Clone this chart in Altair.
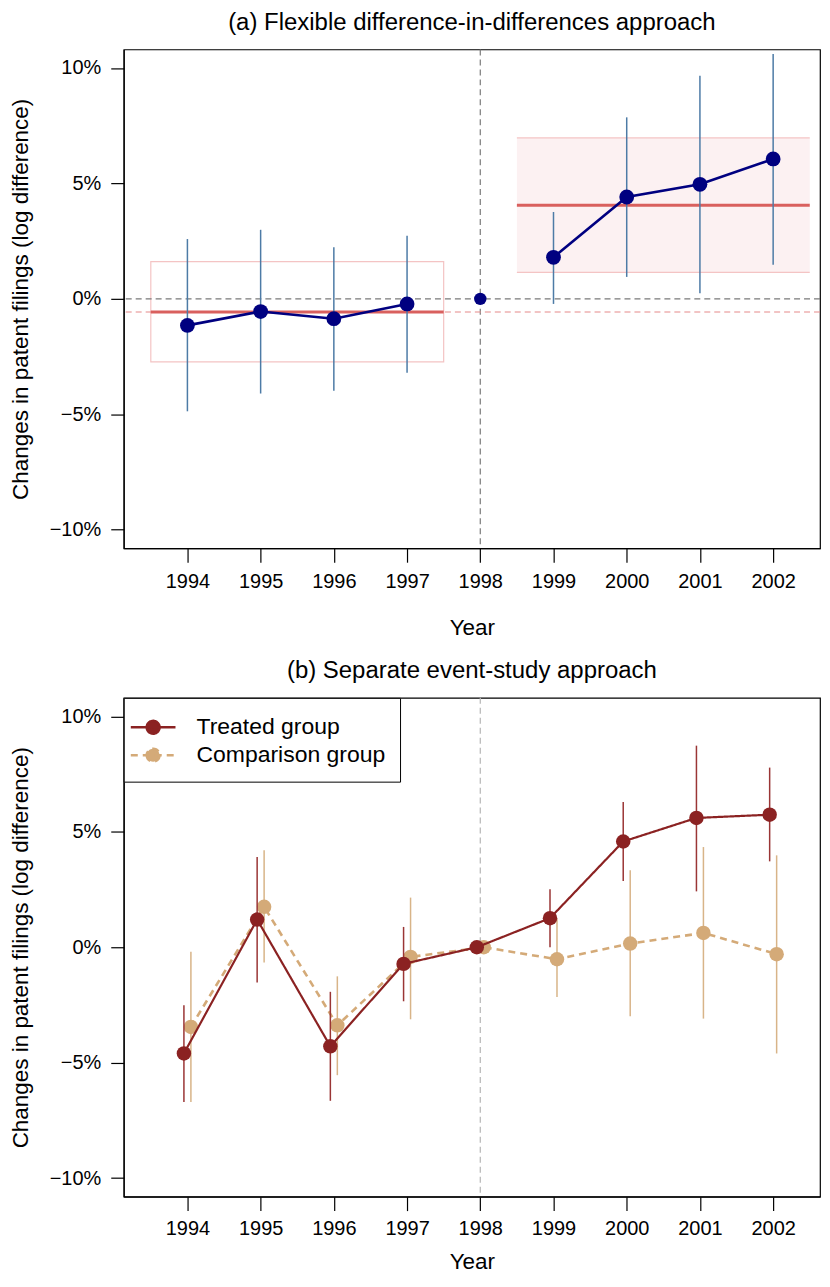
import altair as alt
import pandas as pd

FONT = "Liberation Sans"

years = [1994, 1995, 1996, 1997, 1998, 1999, 2000, 2001, 2002]
base_year = [1998]

# Panel (a): flexible difference-in-differences
did_est = [-1.15, -0.55, -0.86, -0.22, 0.0, 1.80, 4.41, 4.96, 6.06]
did_lo = [-4.87, -4.10, -3.98, -3.20, None, -0.22, 0.95, 0.24, 1.48]
did_hi = [2.59, 2.99, 2.23, 2.73, None, 3.76, 7.86, 9.66, 10.60]
did_period = ["pre", "pre", "pre", "pre", "base", "post", "post", "post", "post"]

pool_period = ["pre", "post"]
pool_start = [1993.5, 1998.5]
pool_end = [1997.5, 2002.5]
pool_est = [-0.57, 4.05]
pool_lo = [-2.73, 1.15]
pool_hi = [1.61, 6.97]

# Panel (b): separate event studies
groups = ["Treated group", "Comparison group"]
treat_est = [-4.60, 1.20, -4.29, -0.72, 0.0, 1.26, 4.58, 5.60, 5.74]
treat_lo = [-6.70, -1.53, -6.65, -2.34, None, 0.00, 2.87, 2.42, 3.72]
treat_hi = [-2.51, 3.91, -1.93, 0.88, None, 2.51, 6.29, 8.73, 7.78]
comp_est = [-3.45, 1.75, -3.38, -0.42, 0.0, -0.52, 0.16, 0.62, -0.30]
comp_lo = [-6.70, -0.66, -5.54, -3.12, None, -2.15, -2.99, -3.09, -4.60]
comp_hi = [-0.20, 4.20, -1.26, 2.15, None, 1.24, 3.33, 4.34, 3.98]

y_ticks = [-10, -5, 0, 5, 10]

did = pd.DataFrame({"year": years, "est": did_est, "lo": did_lo, "hi": did_hi, "period": did_period})
pool = pd.DataFrame({"period": pool_period, "start": pool_start, "end": pool_end,
                     "est": pool_est, "lo": pool_lo, "hi": pool_hi})
ev = pd.concat([
    pd.DataFrame({"year": years, "est": comp_est, "lo": comp_lo, "hi": comp_hi, "group": groups[1]}),
    pd.DataFrame({"year": years, "est": treat_est, "lo": treat_lo, "hi": treat_hi, "group": groups[0]}),
], ignore_index=True)
base = pd.DataFrame({"year": base_year, "zero": [0.0]})

W, H = 698, 500
xscale = alt.Scale(domain=[1993.13, 2002.64], nice=False, zero=False)
yscale = alt.Scale(domain=[-10.8, 10.8], nice=False, zero=False)

yaxis = alt.Axis(values=y_ticks, labelExpr="format(datum.value, 'd') + '%'", grid=False,
                 tickSize=13, labelPadding=10, title="Changes in patent filings (log difference)",
                 titlePadding=17)


def make_xaxis(lp, tp):
    return alt.Axis(values=years, format="d", grid=False, tickSize=14, labelPadding=lp,
                    title="Year", titlePadding=tp)


def make_enc(xaxis):
    X = lambda f="year": alt.X(f"{f}:Q", scale=xscale, axis=xaxis)
    Y = lambda f="est": alt.Y(f"{f}:Q", scale=yscale, axis=yaxis)
    return X, Y


# ---------- Panel (a)
X, Y = make_enc(make_xaxis(9, 25))
pre = pool[pool.period == "pre"]
post = pool[pool.period == "post"]

a_pre_box = alt.Chart(pre).mark_rect(fill="white", fillOpacity=0, stroke="#f4c4c4", strokeWidth=1.2).encode(
    x=X("start"), x2="end", y=Y("lo"), y2="hi")
a_post_box = alt.Chart(post).mark_rect(fill="#fcf1f2").encode(
    x=X("start"), x2="end", y=Y("lo"), y2="hi")
a_post_lo = alt.Chart(post).mark_rule(color="#f4c4c4", strokeWidth=1.2).encode(x=X("start"), x2="end", y=Y("lo"))
a_post_hi = alt.Chart(post).mark_rule(color="#f4c4c4", strokeWidth=1.2).encode(x=X("start"), x2="end", y=Y("hi"))
a_zero = alt.Chart(base).mark_rule(color="#7a7a7a", strokeDash=[6, 4], strokeWidth=1.2).encode(y=Y("zero"))
a_vline = alt.Chart(base).mark_rule(color="#7a7a7a", strokeDash=[6, 4], strokeWidth=1.2).encode(x=X("year"))
a_predash = alt.Chart(pre).mark_rule(color="#e68a8a", strokeDash=[6, 4], strokeWidth=1.2).encode(y=Y("est"))
a_pool = alt.Chart(pool).mark_rule(color="#d9605e", strokeWidth=3).encode(x=X("start"), x2="end", y=Y("est"))
a_ci = alt.Chart(did).transform_filter("datum.lo != null").mark_rule(color="#4d7ba6", strokeWidth=1.5).encode(
    x=X(), y=Y("lo"), y2="hi")
a_line = alt.Chart(did).transform_filter("datum.period != 'base'").mark_line(color="#000080", strokeWidth=2.6).encode(
    x=X(), y=Y(), detail="period:N")
a_pts = alt.Chart(did).transform_filter("datum.period != 'base'").mark_point(
    filled=True, color="#000080", size=220, opacity=1).encode(x=X(), y=Y())
a_base = alt.Chart(did).transform_filter("datum.period == 'base'").mark_point(
    filled=True, color="#000080", size=155, opacity=1).encode(x=X(), y=Y())

panel_a = alt.layer(a_post_box, a_post_lo, a_post_hi, a_pre_box, a_zero, a_vline, a_predash, a_pool,
                    a_ci, a_line, a_pts, a_base).properties(
    width=W, height=H,
    title=alt.TitleParams("(a) Flexible difference-in-differences approach", fontSize=24,
                          fontWeight="normal", font=FONT, color="black", offset=14))

# ---------- Panel (b)
X, Y = make_enc(make_xaxis(8, 12))
cscale = alt.Scale(domain=groups, range=["#8b2222", "#d4aa78"])
dscale = alt.Scale(domain=groups, range=[[1, 0], [7, 5]])
sym = "M-1.6,0L1.6,0M-0.46,0a0.46,0.46 0 1,0 0.92,0a0.46,0.46 0 1,0 -0.92,0"
leg = alt.Legend(title=None, orient="none", legendX=0, legendY=0, symbolType=sym, symbolSize=784,
                 symbolStrokeWidth=2.5, labelFontSize=23, labelFont=FONT, labelColor="black",
                 labelOffset=28, padding=14, rowPadding=0, strokeColor="black", fillColor="white",
                 cornerRadius=0, symbolOpacity=1, labelLimit=400)
C = alt.Color("group:N", scale=cscale, legend=leg)

b_vline = alt.Chart(base).mark_rule(color="#b5b5b5", strokeDash=[6, 4], strokeWidth=1.2).encode(x=X("year"))

layers_b = [b_vline]
for g, off, cicol in [(groups[1], 3.5, "#d8b488"), (groups[0], -3.5, "#9a3535")]:
    src = alt.Chart(ev).transform_filter(alt.datum.group == g)
    layers_b.append(src.mark_line(strokeWidth=2.6 if g == groups[1] else 2.2).encode(
        x=X(), y=Y(), color=C, strokeDash=alt.StrokeDash("group:N", scale=dscale, legend=leg),
        xOffset=alt.value(off)))
    layers_b.append(src.transform_filter("datum.lo != null").mark_rule(color=cicol, strokeWidth=1.5).encode(
        x=X(), y=Y("lo"), y2="hi", xOffset=alt.value(off)))
    layers_b.append(src.mark_point(filled=True, size=210, opacity=1).encode(
        x=X(), y=Y(), color=C, xOffset=alt.value(off)))

panel_b = alt.layer(*layers_b).properties(
    width=W, height=H,
    title=alt.TitleParams("(b) Separate event-study approach", fontSize=24,
                          fontWeight="normal", font=FONT, color="black", offset=14))

chart = alt.vconcat(panel_a, panel_b, spacing=18).resolve_scale(
    color="independent", strokeDash="independent").resolve_legend(
    color="independent", strokeDash="independent").properties(
    padding=0, background="white").configure_view(
    stroke="black", strokeWidth=1.2).configure_axis(
    labelFont=FONT, titleFont=FONT, labelFontSize=20, titleFontSize=22.5, titleFontWeight="normal",
    labelColor="black", titleColor="black", domainColor="black", tickColor="black",
    domainWidth=1.2, tickWidth=1.2)

chart.save("out.html", embed_options={"renderer": "svg", "actions": False})
